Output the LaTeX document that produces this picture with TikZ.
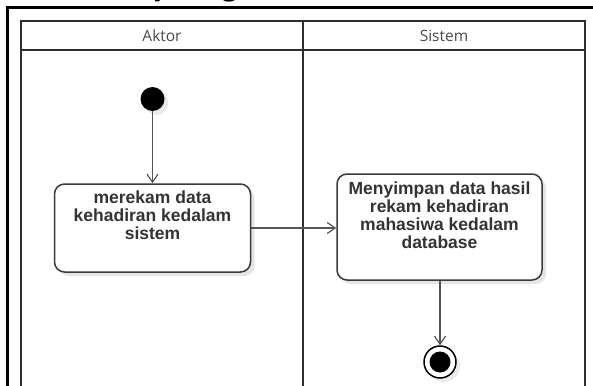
\documentclass[tikz,border=0pt]{standalone}
\usepackage{fontspec}
\setmainfont{Liberation Serif}
\newfontfamily\boxfont{Liberation Sans}
\newfontfamily\lanefont{Open Sans}
\usetikzlibrary{arrows.meta,shadows}
\definecolor{lanecol}{HTML}{2E2E2E}
\definecolor{boxcol}{HTML}{3A3A3A}
\definecolor{arrcol}{HTML}{555555}
\definecolor{lanetext}{HTML}{4A4A4A}
\definecolor{txtcol}{HTML}{333333}
\tikzset{
  frameline/.style={line width=3pt, black},
  laneline/.style={line width=1.6pt, draw=lanecol},
  lanelabel/.style={font=\lanefont\fontsize{15.5}{17}\selectfont, text=lanetext, inner sep=0pt},
  actbox/.style={draw=boxcol, line width=1.5pt, fill=white, rounded corners=10pt, inner sep=6pt,
     drop shadow={shadow xshift=4pt, shadow yshift=-4pt, fill=black, opacity=0.10},
     font=\boxfont\bfseries\fontsize{17.5}{18}\selectfont, text=txtcol},
  flow/.style={draw=arrcol, line width=1.3pt, -{Straight Barb[length=8pt,width=11pt,line width=1.2pt]}},
  startnode/.style={circle, fill=black, minimum size=24pt, inner sep=0pt,
     drop shadow={shadow xshift=4pt, shadow yshift=-4pt, fill=black, opacity=0.08}},
  endouter/.style={circle, draw=black, line width=1.5pt, fill=white, minimum size=32pt, inner sep=0pt,
     drop shadow={shadow xshift=4pt, shadow yshift=-4pt, fill=black, opacity=0.08}},
  endinner/.style={circle, fill=black, minimum size=21pt, inner sep=0pt},
  titletext/.style={font=\bfseries\fontsize{30}{32}\selectfont, inner sep=0pt, anchor=base west}
}
\begin{document}
\begin{tikzpicture}[x=1pt,y=-1pt]
\useasboundingbox (0,0) rectangle (593,385);
\clip (0,0) rectangle (593,385);
% cut-off title
\node[titletext] (title) at (67.5,-4.8) {Activity Diagram};
% outer frame
\coordinate (fbl) at (7.5,400);
\coordinate (ftl) at (7.5,7.5);
\coordinate (ftr) at (600,7.5);
\draw[frameline] (fbl) -- (ftl) -- (ftr);
% swimlanes
\coordinate (ltl) at (21,21);
\coordinate (lbr) at (585,400);
\coordinate (hl) at (21,50);
\coordinate (hr) at (585,50);
\coordinate (dt) at (303,21);
\coordinate (db) at (303,400);
\draw[laneline] (ltl) rectangle (lbr);
\draw[laneline] (hl) -- (hr);
\draw[laneline] (dt) -- (db);
\node[lanelabel] (aktor) at (162,36) {Aktor};
\node[lanelabel] (sistem) at (444,36) {Sistem};
% nodes
\node[startnode] (start) at (152.5,99) {};
\node[actbox] (a1) at (152.5,228) {\parbox[c][76pt][t]{184pt}{\centering\vspace*{1pt}merekam data\\kehadiran kedalam\\sistem}};
\node[actbox] (a2) at (439.5,227) {\parbox[c][94pt][t]{193pt}{\centering\vspace*{2pt}Menyimpan data hasil\\rekam kehadiran\\mahasiwa kedalam\\database}};
\node[endouter] (end) at (440,362) {};
\node[endinner] (endin) at (end.center) {};
% flows
\draw[flow] (start) -- (a1);
\draw[flow] (a1.east) -- (a1.east -| a2.west);
\draw[flow] (a2.south -| end.north) -- (end.north);
\end{tikzpicture}
\end{document}
